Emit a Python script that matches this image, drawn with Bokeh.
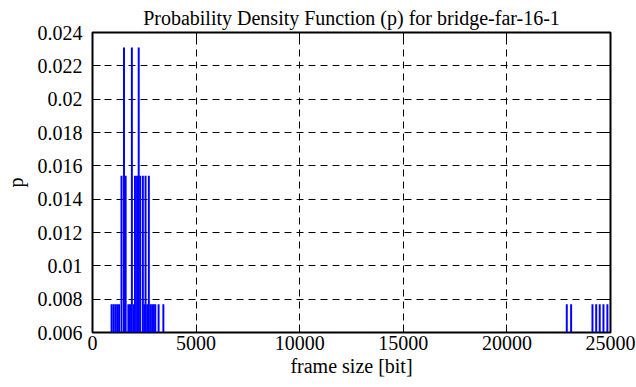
from bokeh.plotting import figure
from bokeh.models import Range1d, LinearAxis, FixedTicker, NumeralTickFormatter
from bokeh.embed import file_html
from bokeh.resources import INLINE

# frame sizes [bit] and their probability density values
frame_sizes = [920, 1010, 1100, 1190, 1280, 1400, 1520, 1600, 1730, 1810,
               1900, 1990, 2050, 2150, 2230, 2300, 2430, 2500, 2560, 2640,
               2720, 2800, 2880, 2960, 3030, 3190, 3420,
               22890, 23100, 24130, 24310, 24480, 24660, 24850]
p_values = [0.0077, 0.0077, 0.0077, 0.0077, 0.0077, 0.0154, 0.0231, 0.0154, 0.0077, 0.0077,
            0.0231, 0.0077, 0.0154, 0.0154, 0.0231, 0.0154, 0.0154, 0.0077, 0.0154, 0.0077,
            0.0154, 0.0077, 0.0077, 0.0077, 0.0077, 0.0077, 0.0077,
            0.0077, 0.0077, 0.0077, 0.0077, 0.0077, 0.0077, 0.0077]

x_ticks = [0, 5000, 10000, 15000, 20000, 25000]
y_ticks = [0.006, 0.008, 0.010, 0.012, 0.014, 0.016, 0.018, 0.020, 0.022, 0.024]

FONT = "Liberation Serif"
FS = "20px"

p = figure(width=636, height=387, output_backend="svg", toolbar_location=None,
           x_range=Range1d(0, 25000), y_range=Range1d(0.006, 0.024),
           title="Probability Density Function (p) for bridge-far-16-1",
           min_border_left=92, min_border_right=26, min_border_top=32, min_border_bottom=55)

p.title.text_font = FONT
p.title.text_font_size = FS
p.title.text_font_style = "normal"
p.title.align = "center"
p.title.text_color = "black"
p.title.standoff = 8
p.title.offset = 0

p.vbar(x=frame_sizes, top=p_values, bottom=0, width=95, fill_color="#0000ff", line_color=None)

p.outline_line_color = "black"
p.outline_line_width = 2
p.outline_line_alpha = 1
p.background_fill_color = "white"
p.border_fill_color = "white"

for ax in (p.xaxis[0], p.yaxis[0]):
    ax.axis_line_color = None
    ax.major_tick_in = 8
    ax.major_tick_out = 0
    ax.minor_tick_line_color = None
    ax.major_tick_line_color = "black"
    ax.major_tick_line_width = 1
    ax.major_label_text_font = FONT
    ax.major_label_text_font_size = FS
    ax.major_label_text_color = "black"
    ax.axis_label_text_font = FONT
    ax.axis_label_text_font_size = FS
    ax.axis_label_text_font_style = "normal"
    ax.axis_label_text_color = "black"

p.xaxis[0].ticker = FixedTicker(ticks=x_ticks)
p.yaxis[0].ticker = FixedTicker(ticks=y_ticks)
p.yaxis[0].formatter = NumeralTickFormatter(format="0.[000]")
p.xaxis[0].axis_label = "frame size [bit]"
p.yaxis[0].axis_label = "p"
p.xaxis[0].major_label_standoff = 3
p.yaxis[0].major_label_standoff = 10
p.xaxis[0].axis_label_standoff = 2
p.yaxis[0].axis_label_standoff = 8

# mirrored ticks on top and right
right_ax = LinearAxis(ticker=FixedTicker(ticks=y_ticks), axis_line_color=None,
                      major_tick_in=8, major_tick_out=0, minor_tick_line_color=None,
                      major_label_text_font_size="1px", major_label_text_alpha=0,
                      major_label_standoff=0)
top_ax = LinearAxis(ticker=FixedTicker(ticks=x_ticks), axis_line_color=None,
                    major_tick_in=8, major_tick_out=0, minor_tick_line_color=None,
                    major_label_text_font_size="1px", major_label_text_alpha=0,
                    major_label_standoff=0)
p.add_layout(right_ax, "right")
p.add_layout(top_ax, "above")

p.xgrid.ticker = FixedTicker(ticks=x_ticks)
p.ygrid.ticker = FixedTicker(ticks=y_ticks)
for g in (p.xgrid[0], p.ygrid[0]):
    g.grid_line_color = "black"
    g.grid_line_dash = "7 5"
    g.grid_line_width = 1
    g.grid_line_alpha = 1

open("out.html", "w").write(file_html(p, INLINE))
